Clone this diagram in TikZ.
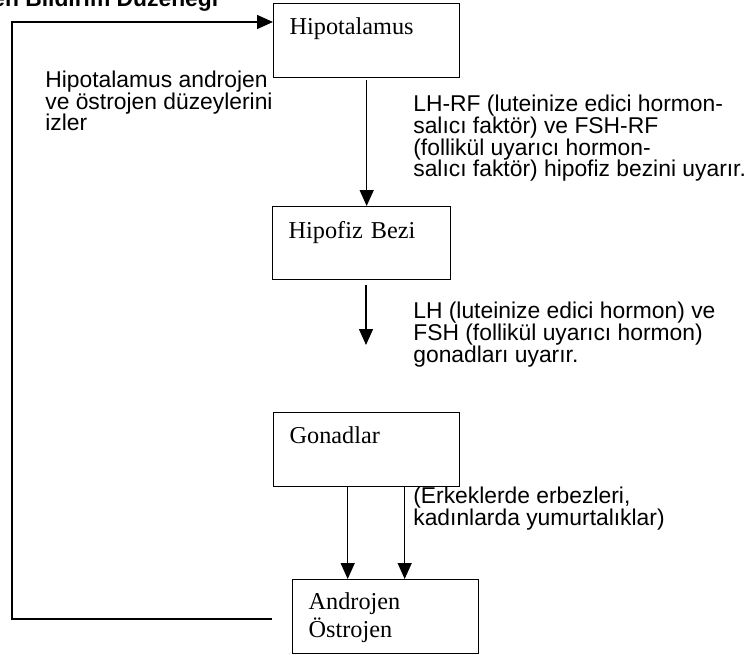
\documentclass[tikz,border=0pt]{standalone}
\usepackage{fontspec}
\setmainfont{Liberation Serif}
\setsansfont{Liberation Sans}
\usetikzlibrary{positioning}
\usetikzlibrary{arrows.meta}
\tikzset{organ/.style={draw, line width=0.8pt, anchor=north west, align=left, inner xsep=0.32cm, inner ysep=0pt, font=\fontsize{13.8}{15.9}\selectfont\rmfamily}}
\tikzset{note/.style={anchor=base west, align=left, inner sep=0pt, font=\fontsize{13}{12.4}\selectfont\sffamily}}
\tikzset{hormone/.style={-{Triangle[length=0.32cm,width=0.28cm]}, line width=0.8pt}}

\begin{document}
\begin{tikzpicture}[x=0.02cm,y=-0.02cm]
\useasboundingbox (0,0) rectangle (750,655);
\clip (0,0) rectangle (750,655);
% title, cut at the left edge
\node[note, font=\fontsize{13}{12.4}\selectfont\sffamily\bfseries] (title) at (-8,7) {en Bildirim Düzeneği};
% glands
\node[organ, text width=3.08cm, text height=0.62cm, text depth=0.86cm] (hyp) at (273,3) {Hipotalamus};
\node[organ, text width=2.92cm, text height=0.64cm, text depth=0.82cm] (hip) at (272,206) {Hipofiz Bezi};
\node[organ, text width=3.08cm, text height=0.62cm, text depth=0.86cm] (gon) at (273,412) {Gonadlar};
\node[organ, text width=3.08cm, text height=0.60cm, text depth=0.88cm] (and) at (292,579) {Androjen\\Östrojen};
% notes (base = last line)
\node[note] (watch) at (45,131) {Hipotalamus androjen\\ve östrojen düzeylerini\\izler};
\node[note] (rf) at (413,177) {LH-RF (luteinize edici hormon-\\salıcı faktör) ve FSH-RF\\(follikül uyarıcı hormon-\\salıcı faktör) hipofiz bezini uyarır.};
\node[note] (lhfsh) at (413,362) {LH (luteinize edici hormon) ve\\FSH (follikül uyarıcı hormon)\\gonadları uyarır.};
\node[note] (sex) at (413,525) {(Erkeklerde erbezleri,\\kadınlarda yumurtalıklar)};
% arrows
\draw[hormone, shorten <=0.04cm] (hyp.south) -- (hyp.south |- hip.north);
\coordinate (gonIn) at (366,345);
\draw[hormone, shorten <=0.1cm] (gonIn |- hip.south) -- (gonIn);
\draw[hormone] ([xshift=-0.38cm]gon.south) -- ([xshift=-0.38cm]gon.south |- and.north);
\draw[hormone] ([xshift=0.76cm]gon.south) -- ([xshift=0.76cm]gon.south |- and.north);
% feedback loop
\coordinate (back) at (272,619);
\coordinate (corner) at (12,22);
\draw[hormone] (back) -| (corner) -- (corner -| hyp.west);
\end{tikzpicture}
\end{document}
